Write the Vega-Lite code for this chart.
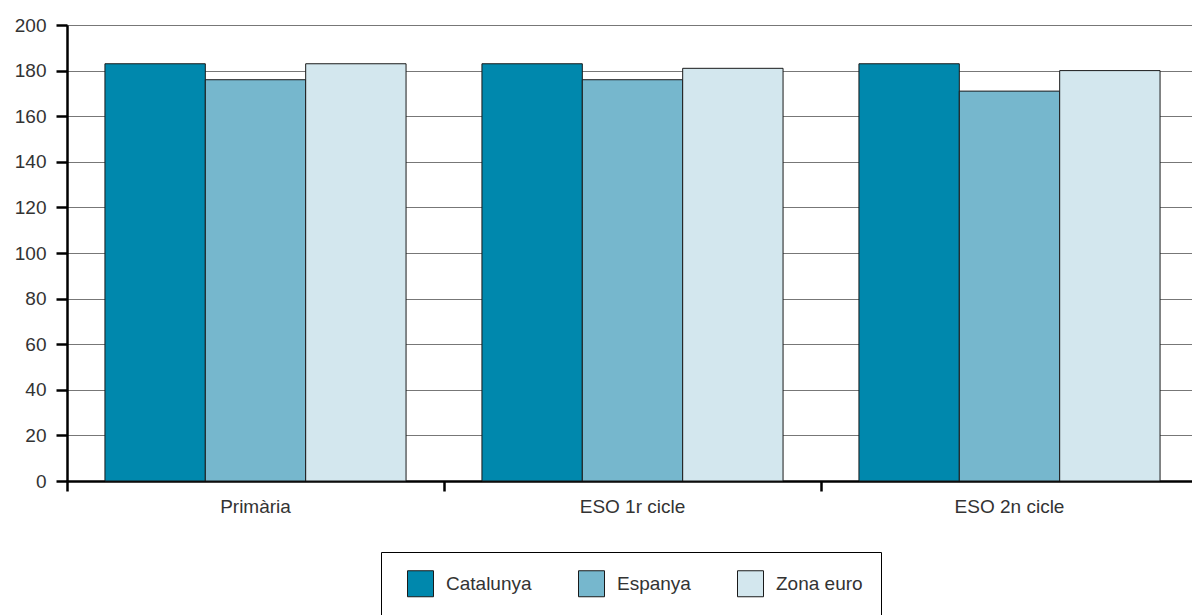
{
  "$schema": "https://vega.github.io/schema/vega-lite/v6.json",
  "autosize": "none",
  "width": 1131,
  "height": 456,
  "padding": {"left": 67, "top": 25, "right": 0, "bottom": 134},
  "background": "white",
  "data": {
    "values": [
      {"nivell": "Primària", "zona": "Catalunya", "valor": 183},
      {"nivell": "Primària", "zona": "Espanya", "valor": 176},
      {"nivell": "Primària", "zona": "Zona euro", "valor": 183},
      {"nivell": "ESO 1r cicle", "zona": "Catalunya", "valor": 183},
      {"nivell": "ESO 1r cicle", "zona": "Espanya", "valor": 176},
      {"nivell": "ESO 1r cicle", "zona": "Zona euro", "valor": 181},
      {"nivell": "ESO 2n cicle", "zona": "Catalunya", "valor": 183},
      {"nivell": "ESO 2n cicle", "zona": "Espanya", "valor": 171},
      {"nivell": "ESO 2n cicle", "zona": "Zona euro", "valor": 180}
    ]
  },
  "mark": {"type": "bar", "stroke": "#1a1a1a", "strokeWidth": 1},
  "encoding": {
    "x": {
      "field": "nivell",
      "type": "nominal",
      "sort": ["Primària", "ESO 1r cicle", "ESO 2n cicle"],
      "scale": {"paddingInner": 0, "paddingOuter": 0},
      "axis": {
        "title": null,
        "labelAngle": 0,
        "bandPosition": 0,
        "domainColor": "black",
        "domainWidth": 2.5,
        "tickColor": "black",
        "tickWidth": 2.5,
        "tickSize": 10,
        "labelPadding": 6,
        "labelFont": "Liberation Sans",
        "labelFontSize": 19,
        "labelColor": "#333"
      }
    },
    "xOffset": {
      "field": "zona",
      "type": "nominal",
      "scale": {"paddingInner": 0, "paddingOuter": 0.378}
    },
    "y": {
      "field": "valor",
      "type": "quantitative",
      "scale": {"domain": [0, 200]},
      "axis": {
        "title": null,
        "values": [0, 20, 40, 60, 80, 100, 120, 140, 160, 180, 200],
        "labelOverlap": false,
        "domainColor": "black",
        "domainWidth": 2.5,
        "tickColor": "black",
        "tickWidth": 2.5,
        "tickSize": 11,
        "labelPadding": 10,
        "labelFont": "Liberation Sans",
        "labelFontSize": 19,
        "labelColor": "#333",
        "grid": true,
        "gridColor": "#777",
        "gridWidth": 1
      }
    },
    "fill": {
      "field": "zona",
      "type": "nominal",
      "scale": {
        "domain": ["Catalunya", "Espanya", "Zona euro"],
        "range": ["#0088AD", "#76B7CD", "#D3E7EE"]
      },
      "legend": {
        "title": null,
        "orient": "none",
        "legendX": 314,
        "legendY": 527,
        "direction": "horizontal",
        "strokeColor": "black",
        "fillColor": "white",
        "padding": 18,
        "symbolOffset": 8,
        "symbolType": "square",
        "symbolSize": 676,
        "symbolStrokeColor": "#1a1a1a",
        "symbolStrokeWidth": 1,
        "labelFont": "Liberation Sans",
        "labelFontSize": 19,
        "labelColor": "#333",
        "labelOffset": 12,
        "columnPadding": 38
      }
    }
  },
  "config": {
    "view": {"stroke": "black", "strokeWidth": 1}
  }
}
